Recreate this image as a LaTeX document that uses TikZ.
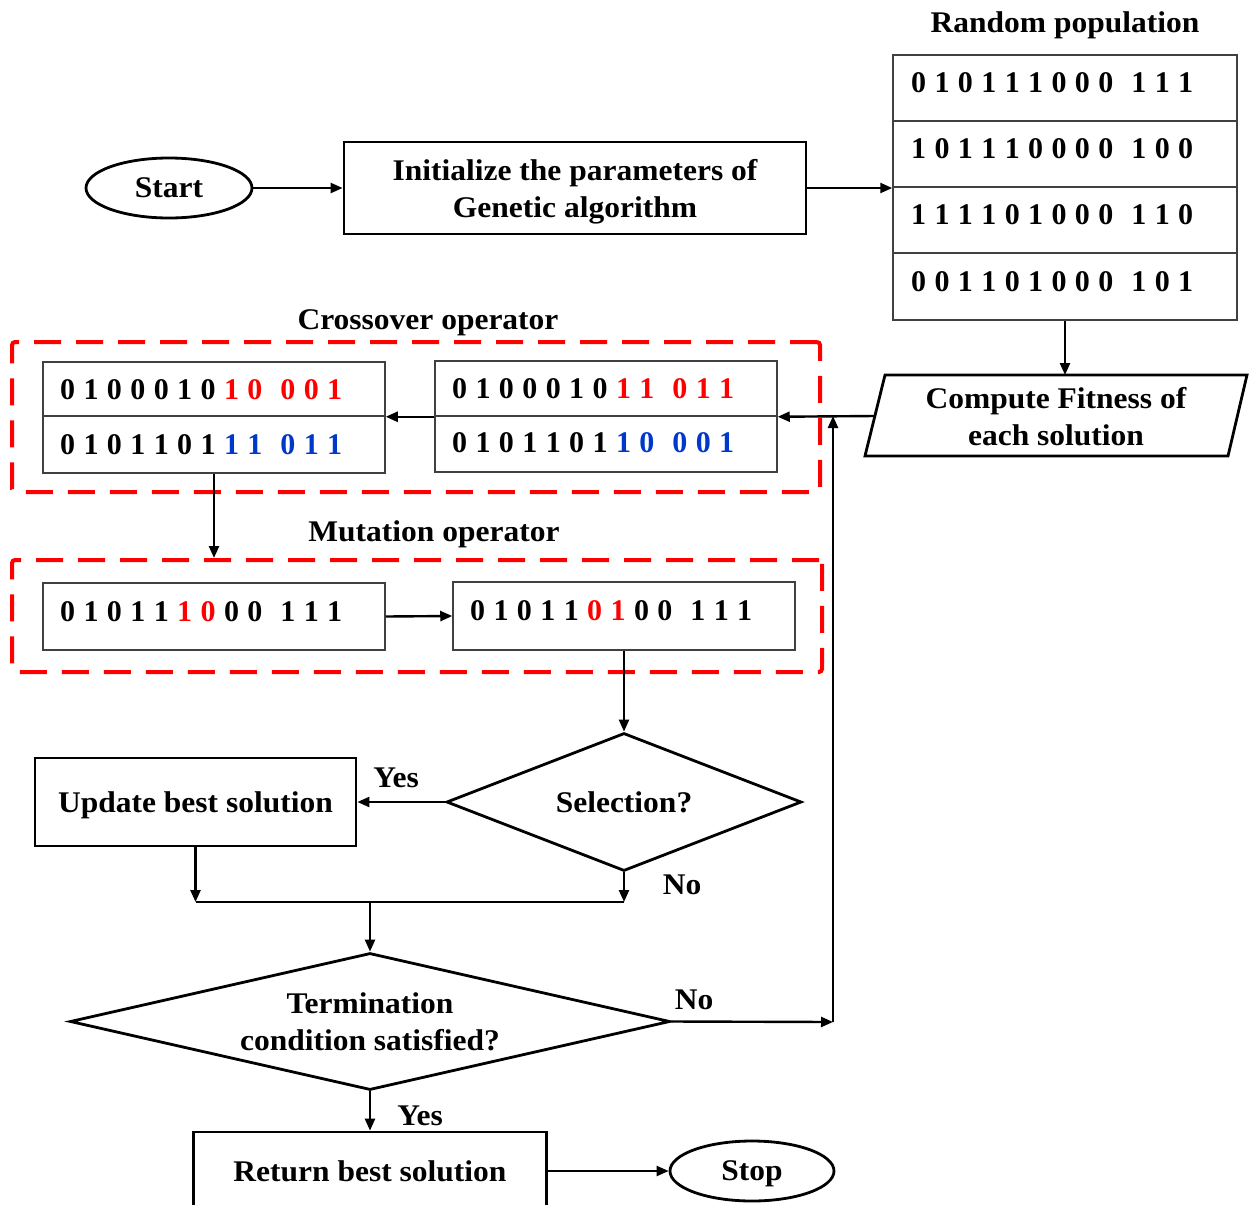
\documentclass[tikz,border=0pt]{standalone}
\usepackage{fontspec}
\usetikzlibrary{shapes.geometric,arrows.meta,calc}
\newfontfamily\lblfont{Liberation Serif}[FakeStretch=1.05]
\newfontfamily\bitfont{Liberation Serif}
\definecolor{xred}{RGB}{255,0,0}
\definecolor{xblue}{RGB}{0,56,204}
\newcommand\bgap{\hspace{18pt}}
\newcommand\bitstyle{\bitfont\bfseries\fontsize{30}{36}\selectfont\spaceskip=8.4pt\relax}
\newcommand\lblstyle{\lblfont\bfseries\fontsize{30}{37}\selectfont}

\begin{document}
\begin{tikzpicture}[x=1pt,y=-1pt,
  lbl/.style={font=\lblstyle, inner sep=0pt, text depth=0pt},
  flowbox/.style={draw,line width=2.8pt,rectangle,inner sep=0pt,lbl,align=center},
  term/.style={draw,ellipse,line width=2.8pt,inner sep=0pt,lbl},
  decision/.style={draw,diamond,line width=2.8pt,inner sep=0pt,lbl,align=center},
  cell/.style={draw=black!75,line width=1.5pt,rectangle,inner sep=0pt},
  bits/.style={font=\bitstyle, anchor=west, inner sep=0pt},
  opframe/.style={draw=xred,line width=4pt,dash pattern=on 27pt off 15pt,
    rounded corners=3pt,rectangle,inner sep=0pt},
  flow/.style={line width=2.4pt,-{Triangle[length=12pt,width=10pt]}},
  link/.style={line width=2.4pt},
  ]
\clip (0,0) rectangle (1256,1205);

% ---- start and initialisation
\node[term,minimum width=166pt,minimum height=60pt] (start) at (169,188) {Start};
\node[flowbox,minimum width=462pt,minimum height=92pt] (init) at (575,188)
  {Initialize the parameters of\\Genetic algorithm};

% ---- random population table
\node[lbl] (poptitle) at (1065,22) {Random population};
\node[cell,minimum width=344pt,minimum height=66pt] (p1) at (1065,88) {};
\node[cell,minimum width=344pt,minimum height=66pt] (p2) at (1065,154) {};
\node[cell,minimum width=344pt,minimum height=66pt] (p3) at (1065,220) {};
\node[cell,minimum width=344pt,minimum height=67pt] (p4) at (1065,286.5) {};
\node[bits] (p1t) at (911,83) {0 1 0 1 1 1 0 0 0\bgap 1 1 1};
\node[bits] (p2t) at (911,149) {1 0 1 1 1 0 0 0 0\bgap 1 0 0};
\node[bits] (p3t) at (911,215) {1 1 1 1 0 1 0 0 0\bgap 1 1 0};
\node[bits] (p4t) at (911,282) {0 0 1 1 0 1 0 0 0\bgap 1 0 1};

% ---- fitness evaluation
\draw[line width=2.8pt] (885,375) -- (1247,375) -- (1228,456) -- (865,456) -- cycle;
\node[lbl,align=center] (fitness) at (1056,416) {Compute Fitness of\\each solution};
\coordinate (fitL) at (875,416);
\coordinate (fitT) at (1065,375);

% ---- crossover operator
\node[lbl] (xlabel) at (428,320) {Crossover operator};
\node[opframe,minimum width=808pt,minimum height=150pt] (xframe) at (416,417) {};
\node[cell,minimum width=342pt,minimum height=54pt] (cl1) at (214,389) {};
\node[cell,minimum width=342pt,minimum height=57pt] (cl2) at (214,444.5) {};
\node[cell,minimum width=342pt,minimum height=55pt] (cr1) at (606,388.5) {};
\node[cell,minimum width=342pt,minimum height=56pt] (cr2) at (606,444) {};
\node[bits] (cl1t) at (60,390) {0 1 0 0 0 1 0 \textcolor{xred}{1 0\bgap 0 0 1}};
\node[bits] (cl2t) at (60,445) {0 1 0 1 1 0 1 \textcolor{xblue}{1 1\bgap 0 1 1}};
\node[bits] (cr1t) at (452,389) {0 1 0 0 0 1 0 \textcolor{xred}{1 1\bgap 0 1 1}};
\node[bits] (cr2t) at (452,443) {0 1 0 1 1 0 1 \textcolor{xblue}{1 0\bgap 0 0 1}};

% ---- mutation operator
\node[lbl] (mlabel) at (434,531) {Mutation operator};
\node[opframe,minimum width=810pt,minimum height=112pt] (mframe) at (417,616) {};
\node[cell,minimum width=342pt,minimum height=67pt] (ml) at (214,616.5) {};
\node[cell,minimum width=342pt,minimum height=68pt] (mr) at (624,616) {};
\node[bits] (mlt) at (60,612) {0 1 0 1 1 \textcolor{xred}{1 0} 0 0\bgap 1 1 1};
\node[bits] (mrt) at (470,611) {0 1 0 1 1 \textcolor{xred}{0 1} 0 0\bgap 1 1 1};

% ---- selection and update
\node[decision,shape aspect=2.57,minimum width=355pt,minimum height=138pt] (sel) at (624,802) {Selection?};
\node[flowbox,minimum width=321pt,minimum height=88pt] (upd) at (195.5,802) {Update best solution};
\node[lbl] (yes1) at (396,778) {Yes};
\node[lbl] (no1) at (682,885) {No};
\coordinate (mL) at (195.5,902);
\coordinate (mR) at (624,902);
\coordinate (mM) at (370,902);

% ---- termination test and end
\node[decision,shape aspect=4.38,minimum width=600pt,minimum height=137pt] (termc) at (370,1021.5)
  {Termination\\condition satisfied?};
\node[lbl] (no2) at (694,1000) {No};
\node[lbl] (yes2) at (420,1116) {Yes};
\coordinate (loopB) at (833,1022);
\node[flowbox,minimum width=353pt,minimum height=78pt] (ret) at (370,1171) {Return best solution};
\node[term,minimum width=164pt,minimum height=60pt] (stop) at (752,1171) {Stop};

% ---- connectors
\draw[flow] (start.east) -- (init.west);
\draw[flow] (init.east) -- (init.east -| p1.west);
\draw[flow] (p4.south) -- (fitT);
\draw[flow] (fitL) -- (cr1.south east);
\draw[flow] (cr1.south west) -- (cl1.south east);
\draw[flow] (cl2.south) -- (cl2.south |- mframe.north);
\draw[flow] (ml.east) -- (mr.west);
\draw[flow] (mr.south) -- (sel.north);
\draw[flow] (sel.west) -- (upd.east);
\draw[flow] (upd.south) -- (mL);
\draw[flow] (sel.south) -- (mR);
\draw[link] (mL) -- (mR);
\draw[flow] (mM) -- (termc.north);
\draw[flow] (termc.east) -- (loopB);
\draw[flow] (loopB) -- (loopB |- fitL);
\draw[flow] (termc.south) -- (ret.north);
\draw[flow] (ret.east) -- (stop.west);
\end{tikzpicture}
\end{document}
